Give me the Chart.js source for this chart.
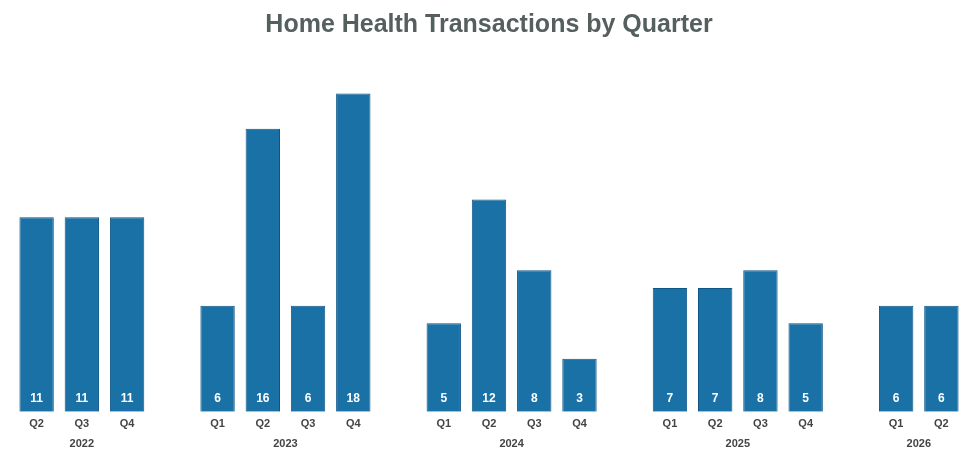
<!DOCTYPE html>
<html>
<head>
<meta charset="utf-8">
<script src="https://cdn.jsdelivr.net/npm/chart.js@4"></script>
<style>
  html, body { margin: 0; padding: 0; background: #fff; }
  #wrap { width: 980px; height: 456px; }
</style>
</head>
<body>
<div id="wrap"><canvas id="dealsChart"></canvas></div>
<script>
// données : un créneau vide entre chaque année
const quarters = ['Q2', 'Q3', 'Q4', '', 'Q1', 'Q2', 'Q3', 'Q4', '', 'Q1', 'Q2', 'Q3', 'Q4', '', 'Q1', 'Q2', 'Q3', 'Q4', '', 'Q1', 'Q2'];
const years = ['2022', '2022', '2022', '', '2023', '2023', '2023', '2023', '', '2024', '2024', '2024', '2024', '', '2025', '2025', '2025', '2025', '', '2026', '2026'];
const transactions = [11, 11, 11, null, 6, 16, 6, 18, null, 5, 12, 8, 3, null, 7, 7, 8, 5, null, 6, 6];

// étiquettes blanches dans le bas des barres + années sous les trimestres
const labelsPlugin = {
  id: 'barLabels',
  afterDatasetsDraw(chart) {
    const ctx = chart.ctx;
    const meta = chart.getDatasetMeta(0);
    const yScale = chart.scales.y;
    const xScale = chart.scales.x;
    const base = yScale.getPixelForValue(0);
    ctx.save();
    ctx.fillStyle = '#ffffff';
    ctx.font = 'bold 12px "Liberation Sans", Arial, sans-serif';
    ctx.textAlign = 'center';
    ctx.textBaseline = 'middle';
    meta.data.forEach((bar, i) => {
      if (transactions[i] == null) return;
      ctx.fillText(String(transactions[i]), bar.x, base - 13);
    });
    // années
    ctx.fillStyle = '#444444';
    ctx.font = 'bold 11px "Liberation Sans", Arial, sans-serif';
    const seen = [...new Set(years.filter(y => y))];
    seen.forEach(y => {
      const idx = years.map((v, i) => v === y ? i : -1).filter(i => i >= 0);
      const x1 = xScale.getPixelForValue(idx[0]);
      const x2 = xScale.getPixelForValue(idx[idx.length - 1]);
      ctx.fillText(y, (x1 + x2) / 2, base + 32);
    });
    ctx.restore();
  }
};

const ctx = document.getElementById('dealsChart').getContext('2d');
const dealsChart = new Chart(ctx, {
  type: 'bar',
  data: {
    labels: quarters,
    datasets: [{
      label: 'Transactions',
      data: transactions,
      backgroundColor: '#1a71a6',
      borderColor: '#0f5687',
      borderWidth: 1,
      categoryPercentage: 1,
      barPercentage: 0.76
    }]
  },
  options: {
    responsive: true,
    maintainAspectRatio: false,
    animation: false,
    layout: { padding: { left: 14, right: 16, top: 0, bottom: 19 } },
    plugins: {
      legend: { display: false },
      tooltip: { enabled: false },
      title: {
        display: true,
        text: 'Home Health Transactions by Quarter',
        color: '#555f5e',
        font: { size: 25, weight: 'bold', family: '"Liberation Sans", Arial, sans-serif' },
        padding: { top: 10, bottom: 18 }
      }
    },
    scales: {
      x: {
        grid: { display: false, drawTicks: false, tickLength: 0 },
        border: { display: false },
        ticks: {
          color: '#444444',
          padding: 6,
          maxRotation: 0,
          autoSkip: false,
          font: { size: 11, weight: 'bold', family: '"Liberation Sans", Arial, sans-serif' }
        }
      },
      y: {
        display: false,
        min: 0,
        max: 20
      }
    }
  },
  plugins: [labelsPlugin]
});
</script>
</body>
</html>
